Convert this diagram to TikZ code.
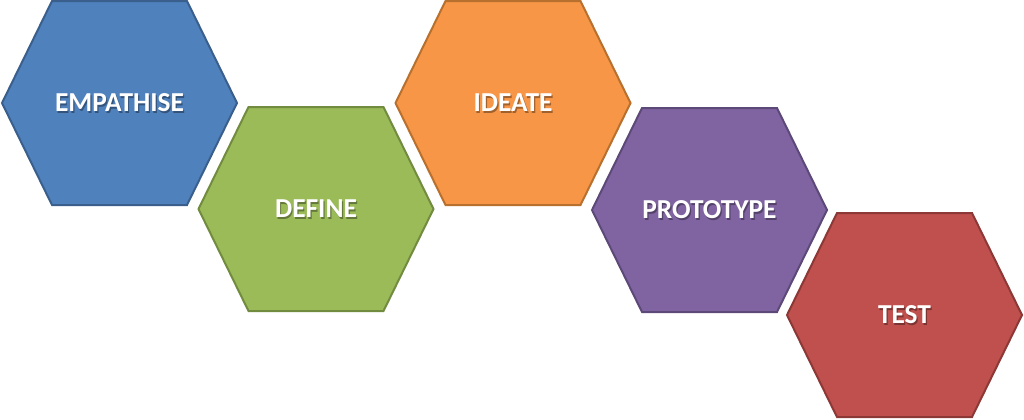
\documentclass[tikz,border=0pt]{standalone}
\usepackage{fontspec}
\setmainfont{Carlito}
\definecolor{bluefill}{HTML}{4F81BD}\definecolor{blueline}{HTML}{3A5F8C}
\definecolor{greenfill}{HTML}{9BBB59}\definecolor{greenline}{HTML}{718B3F}
\definecolor{orangefill}{HTML}{F79646}\definecolor{orangeline}{HTML}{B8702F}
\definecolor{purplefill}{HTML}{8064A2}\definecolor{purpleline}{HTML}{5D4978}
\definecolor{redfill}{HTML}{C0504D}\definecolor{redline}{HTML}{8C3836}
\tikzset{
  hexlabel/.style={text=white,font=\fontsize{27.5}{32}\selectfont\bfseries,inner sep=0pt},
  hexshadow/.style={text=black,opacity=0.35,font=\fontsize{27.5}{32}\selectfont\bfseries,inner sep=0pt},
  hexborder/.style={line width=2bp,line join=miter}
}
\newcommand{\hexstep}[6]{%
  \path[fill=#4,draw=#5,hexborder] (#2,#3) ++(-117.5,0) -- ++(50,-102) -- ++(135,0) -- ++(50,102) -- ++(-50,102) -- ++(-135,0) -- cycle;
  \node[hexshadow] at (#2+1.2,#3+1.5) {#6};
  \node[hexlabel] (#1) at (#2,#3) {#6};
}
\begin{document}
\begin{tikzpicture}[x=1bp,y=-1bp]
\useasboundingbox (0,0) rectangle (1024,419);
\hexstep{empathise}{119.5}{103}{bluefill}{blueline}{EMPATHISE}
\hexstep{define}{316}{209}{greenfill}{greenline}{DEFINE}
\hexstep{ideate}{513}{103}{orangefill}{orangeline}{IDEATE}
\hexstep{prototype}{709.5}{210}{purplefill}{purpleline}{PROTOTYPE}
\hexstep{test}{904.5}{315}{redfill}{redline}{TEST}
\end{tikzpicture}
\end{document}
